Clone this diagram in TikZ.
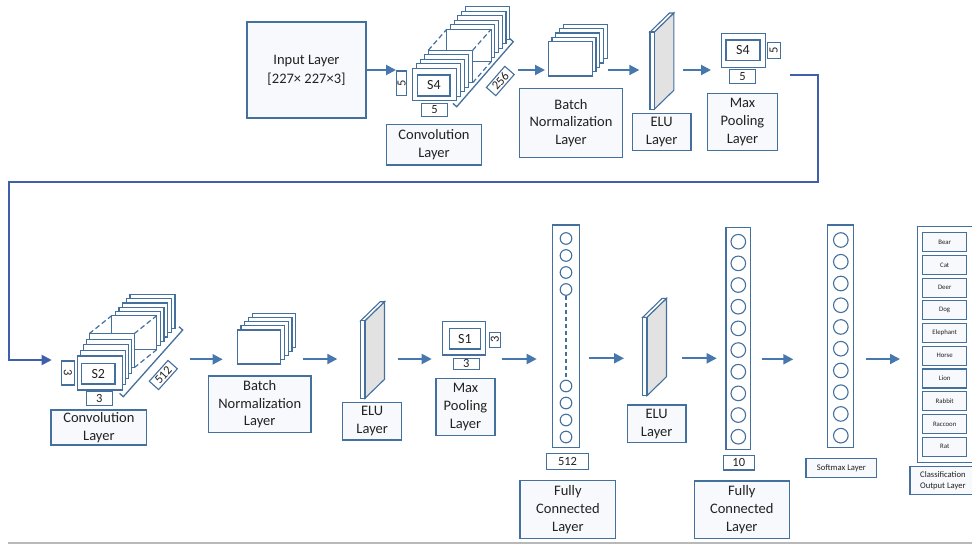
\documentclass[tikz,border=0pt]{standalone}
\usepackage{fontspec}
\setmainfont{Carlito}
\usetikzlibrary{arrows.meta,calc}
\definecolor{edge}{HTML}{44709D}
\definecolor{arrc}{HTML}{4677AD}
\definecolor{loopc}{HTML}{3F5FAA}
\definecolor{tint}{HTML}{F7F9FC}
\definecolor{txt}{HTML}{222222}
\definecolor{slab}{HTML}{E2E2E2}
\newcommand{\stacklayers}[7]{%
  \foreach \i in {#7,...,0}{\draw[layer] (#1+#5*\i,#2+#6*\i) rectangle ++(#3,#4);}}
\newcommand{\myslab}[3]{%
  \draw[slabst, fill=slab] (#1+4.3,#2) -- (#1+23.8,#2-19) -- (#1+23.8,#3-19) -- (#1+4.3,#3) -- cycle;
  \draw[slabst, fill=white] (#1,#2) -- (#1+19.5,#2-19) -- (#1+23.8,#2-19) -- (#1+4.3,#2) -- cycle;
  \draw[slabst, fill=white] (#1,#2) rectangle (#1+4.3,#3);}
\begin{document}
\begin{tikzpicture}[x=1pt,y=-1pt,
  lbl/.style={draw=edge, line width=1.3pt, fill=tint, text=txt,
    align=center, inner sep=0pt, font=\fontsize{14.5}{17.8}\selectfont},
  dim/.style={draw=edge, line width=1.1pt, fill=white, text=txt, inner sep=0pt,
    font=\fontsize{12.5}{12.5}\selectfont},
  inbox/.style={draw=edge, line width=1.3pt, fill=white, text=txt, inner sep=0pt,
    font=\fontsize{14}{14}\selectfont},
  layer/.style={draw=edge, line width=1.2pt, fill=white},
  slabst/.style={draw=edge, line width=1.1pt},
  col/.style={draw=edge, line width=1.3pt, fill=white, inner sep=0pt},
  circ/.style={draw=edge, line width=1.1pt, circle, inner sep=0pt, fill=white},
  cls/.style={draw=edge, line width=1.2pt, fill=tint, text=txt,
    inner sep=0pt, font=\fontsize{6.8}{8}\selectfont},
  small/.style={draw=edge, line width=1.2pt, fill=tint, text=txt,
    align=center, inner sep=0pt, font=\fontsize{8.6}{11.5}\selectfont},
  arr/.style={draw=arrc, line width=2pt, -{Triangle[length=10pt,width=10pt]}},
  brk/.style={draw=edge, line width=1.3pt},
  dsh/.style={draw=edge, line width=1.2pt, dash pattern=on 5pt off 3pt}]
\useasboundingbox (0,0) rectangle (972,544);
\fill[white] (0,0) rectangle (972,544);
\draw[gray!55, line width=1.3pt] (8,543) -- (972,543);

% ---------------- top row ----------------
\node[lbl, minimum width=119, minimum height=96, font=\fontsize{14.5}{19}\selectfont] (inp) at (306.5,70) {Input Layer\\{[}227× 227×3{]}};

% conv stack (top)
\stacklayers{446.7}{29.3}{44.4}{32.4}{3.7}{-4.5}{5}
\draw[dsh] (428.3,50.3) -- (446.7,29.3);
\draw[dsh] (472.7,50.3) -- (491.1,29.3);
\draw[dsh] (472.7,82.7) -- (491.1,61.7);
\stacklayers{412.3}{68.3}{44.4}{32.4}{4}{-4.5}{4}
\node[inbox, minimum width=32.3, minimum height=21] (s4a) at (433.9,85.5) {S4};
\node[dim, rotate=90, minimum width=24.7, minimum height=10] (d5a) at (401.7,83.3) {5};
\node[dim, minimum width=25.6, minimum height=13.4] (d5b) at (434.5,110) {5};
\draw[brk] (452.9,103.4) -- (456.7,106.7) -- (513.3,41.7) -- (509.5,38.4);
\node[dim, rotate=49, minimum width=28, minimum height=12.5] (n256) at (500.3,81) {256};
\node[lbl, minimum width=94.6, minimum height=40.7] (cl1) at (434,144.7) {Convolution\\Layer};

% batch norm (top)
\stacklayers{548.3}{41.7}{44}{34.3}{3.75}{-4.35}{4}
\node[lbl, minimum width=103.4, minimum height=69.4] (bl1) at (571,123) {Batch\\Normalization\\Layer};

% ELU (top)
\myslab{650}{32}{109.3}
\node[lbl, minimum width=58.7, minimum height=37.4] (el1) at (661.7,132) {ELU\\Layer};

% max pool (top)
\node[layer, draw=edge, minimum width=44, minimum height=34, inner sep=0pt] (mp1) at (743.7,50.3) {};
\node[inbox, minimum width=34, minimum height=20.7] (s4b) at (743,50.3) {S4};
\node[dim, rotate=90, minimum width=16, minimum height=12.7] (d5c) at (773.7,50.3) {5};
\node[dim, minimum width=26.4, minimum height=14] (d5d) at (742.5,76.3) {5};
\node[lbl, minimum width=70.4, minimum height=57.4] (ml1) at (742.5,122) {Max\\Pooling\\Layer};

% top arrows
\coordinate (a1e) at (396,70);
\coordinate (a2s) at (518.3,70); \coordinate (a2e) at (545,70);
\coordinate (a3s) at (608.3,70); \coordinate (a3e) at (639.3,70);
\coordinate (a4s) at (683.3,70); \coordinate (a4e) at (711,70);
\draw[arr] (inp.east) -- (a1e);
\draw[arr] (a2s) -- (a2e);
\draw[arr] (a3s) -- (a3e);
\draw[arr] (a4s) -- (a4e);

% loop connector
\coordinate (lp0) at (790,75);
\coordinate (lp1) at (51.7,360);
\draw[draw=loopc, line width=2pt, -{Triangle[length=10pt,width=10pt]}]
  (lp0) -- (817.7,75) -- (817.7,182) -- (9.3,182) -- (9.3,360) -- (lp1);

% ---------------- bottom row ----------------
% conv stack (bottom)
\stacklayers{111.7}{315.7}{45}{34}{3.66}{-4.26}{5}
\draw[dsh] (89.3,333.6) -- (111.7,315.7);
\draw[dsh] (134.3,333.6) -- (156.7,315.7);
\draw[dsh] (134.3,367.6) -- (156.7,349.7);
\stacklayers{77.3}{356}{45}{34}{3}{-5.6}{4}
\node[inbox, minimum width=33.3, minimum height=20.7] (s2) at (98.3,373.7) {S2};
\node[dim, rotate=-90, minimum width=24, minimum height=12.3] (d3a) at (67.9,373) {3};
\node[dim, minimum width=26.3, minimum height=14] (d3b) at (99.2,398.7) {3};
\draw[brk] (119.6,393.4) -- (123.3,396.7) -- (182.7,330) -- (179,326.7);
\node[dim, rotate=48, minimum width=28, minimum height=12.5] (n512a) at (163.3,375) {512};
\node[lbl, minimum width=95.7, minimum height=35] (cl2) at (98.9,427.5) {Convolution\\Layer};

% batch norm (bottom)
\stacklayers{237.3}{330}{43.4}{34}{3.75}{-4.2}{4}
\node[lbl, minimum width=102.7, minimum height=56.3] (bl2) at (259.7,404.2) {Batch\\Normalization\\Layer};

% ELU (bottom)
\myslab{360.7}{320.7}{398.3}
\node[lbl, minimum width=59, minimum height=37.3] (el2) at (372.2,421.4) {ELU\\Layer};

% max pool (bottom)
\node[layer, minimum width=43.4, minimum height=33.3, inner sep=0pt] (mp2) at (464,338.3) {};
\node[inbox, minimum width=31.4, minimum height=20.7] (s1) at (465,338.7) {S1};
\node[dim, rotate=90, minimum width=15, minimum height=11.7] (d3c) at (494.9,339.8) {3};
\node[dim, minimum width=26, minimum height=11] (d3d) at (466.3,363.8) {3};
\node[lbl, minimum width=59, minimum height=57.4] (ml2) at (465.5,407) {Max\\Pooling\\Layer};

% fully connected 1
\node[col, minimum width=26.6, minimum height=222.3] (fc1) at (566,336.2) {};
\foreach \yy [count=\k] in {238.5,255.5,272.5,289.5,386,403,420,437}
  \node[circ, minimum size=11.6] (f1c\k) at (566,\yy) {};
\draw[dsh, dash pattern=on 4pt off 3pt] (f1c4.south) -- (f1c5.north);
\node[dim, minimum width=41.6, minimum height=16] (n512b) at (567.5,461.3) {512};
\node[lbl, minimum width=95.7, minimum height=57.6] (fl1) at (567.9,509.5) {Fully\\Connected\\Layer};

% ELU (third)
\myslab{642.7}{317.3}{395.7}
\node[lbl, minimum width=58.7, minimum height=37.7] (el3) at (656.7,423.9) {ELU\\Layer};

% fully connected 2
\node[col, minimum width=24.7, minimum height=222] (fc2) at (738.3,338.3) {};
\foreach \k in {0,...,9}
  \node[circ, minimum size=14.6] (f2c\k) at (738.3,241.7+21.67*\k) {};
\node[dim, minimum width=31, minimum height=14.3] (n10) at (738.8,462.8) {10};
\node[lbl, minimum width=95, minimum height=57.3] (fl2) at (741.8,509.7) {Fully\\Connected\\Layer};

% softmax
\node[col, minimum width=25.6, minimum height=222.7] (smx) at (840.5,336.3) {};
\foreach \k in {0,...,9}
  \node[circ, minimum size=14.6] (sc\k) at (840.8,240+21.74*\k) {};
\node[small, minimum width=70.7, minimum height=19] (sl) at (841.4,467.8) {Softmax Layer};

% classification
\node[col, minimum width=57, minimum height=236, anchor=north west] (clsbox) at (916.7,225.7) {};
\foreach \n [count=\k from 0] in {Bear,Cat,Deer,Dog,Elephant,Horse,Lion,Rabbit,Raccoon,Rat}
  \node[cls, minimum width=44, minimum height=19] (c\k) at (944.7,242.2+22.72*\k) {\n};
\node[small, minimum width=66, minimum height=28, anchor=north west, font=\fontsize{8.6}{11}\selectfont] (clsl) at (909.3,466) {Classification\\Output Layer};

% bottom arrows
\coordinate (b1s) at (190,359.3); \coordinate (b1e) at (222.7,359.3);
\coordinate (b2s) at (303.3,359); \coordinate (b2e) at (337.3,359);
\coordinate (b3s) at (397.7,359); \coordinate (b3e) at (431.7,359);
\coordinate (b4s) at (501.7,359); \coordinate (b4e) at (536.7,359);
\coordinate (b5s) at (589,358.3); \coordinate (b5e) at (624,358.3);
\coordinate (b6s) at (682.3,358.3); \coordinate (b6e) at (716.7,358.3);
\coordinate (b7s) at (761.7,359.3); \coordinate (b7e) at (793.3,359.3);
\coordinate (b8s) at (866,359); \coordinate (b8e) at (900,359);
\foreach \k in {1,...,8} \draw[arr] (b\k s) -- (b\k e);
\end{tikzpicture}
\end{document}
